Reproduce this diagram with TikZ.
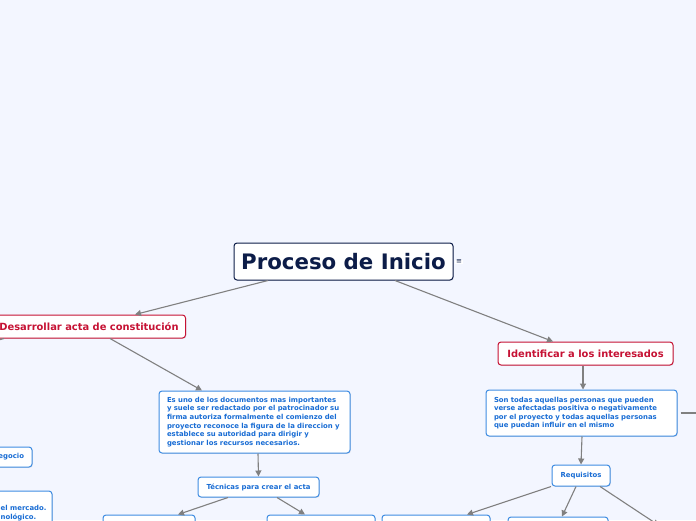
\documentclass[tikz,border=0pt]{standalone}
\usepackage{fontspec}
\setmainfont{DejaVu Sans}
\usetikzlibrary{arrows.meta,shadows}
\definecolor{bgc}{RGB}{243,246,255}
\definecolor{navyc}{RGB}{12,28,72}
\definecolor{redc}{RGB}{198,18,52}
\definecolor{bluet}{RGB}{24,108,212}
\definecolor{bluebd}{RGB}{62,140,226}
\definecolor{connc}{RGB}{128,128,128}
\tikzset{
  box/.style={draw, fill=white, rounded corners=3pt, line width=1pt, inner sep=0pt,
    drop shadow={shadow xshift=0.8pt, shadow yshift=-0.8pt, opacity=0.18}},
  rootbox/.style={box, draw=navyc, text=navyc, font=\bfseries\fontsize{21.3}{24}\selectfont},
  redbox/.style={box, draw=redc, text=redc, font=\bfseries\fontsize{9.9}{11}\selectfont},
  bluebox/.style={box, draw=bluebd, text=bluet, font=\bfseries\fontsize{6.9}{8.6}\selectfont},
  bluetext/.style={inner sep=0pt, text=bluet, font=\bfseries\fontsize{6.9}{8.6}\selectfont},
  conn/.style={draw=connc, line width=1.1pt, -{Triangle[length=6pt,width=6pt]}},
  plainconn/.style={draw=connc, line width=1.1pt},
}
\begin{document}
\begin{tikzpicture}[x=1pt,y=-1pt]
\useasboundingbox (0,0) rectangle (696,520);
\fill[bgc] (0,0) rectangle (696,520);
\clip (0,0) rectangle (696,520);

% root
\node[rootbox, minimum width=219, minimum height=37] (root) at (343.5,261.5) {Proceso de Inicio};
\node[fill=white, inner sep=0.6pt, text=navyc, font=\fontsize{7}{8}\selectfont] (icon) at (459,262) {≡};

% level 1
\node[redbox, minimum width=193, minimum height=23] (des) at (89,326.5) {Desarrollar acta de constitución};
\node[redbox, minimum width=175, minimum height=23] (ide) at (585.5,353.5) {Identificar a los interesados};

% left branch
\node[bluebox, minimum width=191, minimum height=62, text width=175, align=left] (txtL) at (254.5,422)
  {Es uno de los documentos mas importantes\\y suele ser redactado por el patrocinador su\\firma autoriza formalmente el comienzo del\\proyecto reconoce la figura de la direccion y\\establece su autoridad para dirigir y\\gestionar los recursos necesarios.};
\node[bluebox, minimum width=121, minimum height=20] (tec) at (258.5,487) {Técnicas para crear el acta};
\node[bluebox, minimum width=92, minimum height=30] (tecA) at (149,530) {};
\node[bluebox, minimum width=108, minimum height=30] (tecB) at (321,530) {};

% far-left fragments
\node[bluebox, minimum width=72, minimum height=20, text width=56, align=right] (neg) at (-4,457) {egocio};
\node[bluebox, minimum width=144, minimum height=49] (mk) at (-20,515.5) {};
\node[bluetext, anchor=north west, align=left] (mkt) at (0.5,505) {el mercado.\\nológico.};

% right branch
\node[bluebox, minimum width=191, minimum height=46, text width=175, align=left] (txtR) at (581.5,413)
  {Son todas aquellas personas que pueden\\verse afectadas positiva o negativamente\\por el proyecto y todas aquellas personas\\que puedan influir en el mismo};
\node[bluebox, minimum width=58, minimum height=21] (req) at (581,475.5) {Requisitos};
\node[bluebox, minimum width=108, minimum height=30] (reqA) at (436,530) {};
\node[bluebox, minimum width=100, minimum height=30] (reqB) at (558,532) {};
\node[bluebox, minimum width=100, minimum height=30] (reqC) at (680,541) {};

\coordinate (desout) at (-20,345);
\coordinate (rout) at (710,413);

% connectors
\draw[conn] ([xshift=-75.5]root.south) -- ([xshift=46]des.north);
\draw[conn] ([xshift=51.5]root.south) -- ([xshift=-32.5]ide.north);
\draw[conn] ([xshift=21]des.south) -- ([xshift=-52.5]txtL.north);
\draw[plainconn] ([xshift=12]des.south west) -- (desout);
\draw[conn] ([xshift=3.5]txtL.south) -- (tec.north);
\draw[conn] ([xshift=-30.5]tec.south) -- ([xshift=29]tecA.north);
\draw[conn] ([xshift=18.5]tec.south) -- ([xshift=-16]tecB.north);
\draw[conn] ([xshift=-2.5]ide.south) -- ([xshift=1.5]txtR.north);
\draw[plainconn] ([xshift=3]txtR.east) -- (rout);
\draw[conn] ([xshift=0.5]txtR.south) -- (req.north);
\draw[conn] ([xshift=-30]req.south) -- ([xshift=31]reqA.north);
\draw[conn] ([xshift=-5]req.south) -- ([xshift=4]reqB.north);
\draw[conn] ([xshift=19]req.south) -- ([xshift=-21]reqC.north);
\end{tikzpicture}
\end{document}
